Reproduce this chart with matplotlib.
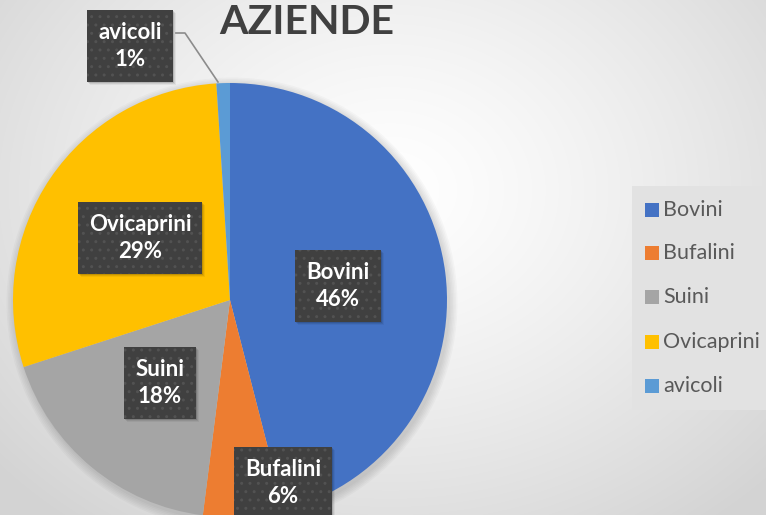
import numpy as np
import matplotlib
matplotlib.use('Agg')
from matplotlib import pyplot as plt

# data
categories = ['Bovini', 'Bufalini', 'Suini', 'Ovicaprini', 'avicoli']
values = [46, 6, 18, 29, 1]
colors = ['#4472C4', '#ED7D31', '#A5A5A5', '#FFC000', '#5B9BD5']
title = 'AZIENDE'

W, H = 766, 515
plt.rcParams['font.family'] = ['Lato', 'DejaVu Sans']
plt.rcParams['hatch.linewidth'] = 1.0

fig = plt.figure(figsize=(W / 100, H / 100), dpi=100)

# radial gradient background
bg = fig.add_axes([0, 0, 1, 1])
yy, xx = np.mgrid[0:H, 0:W]
d = np.sqrt(((xx - 390) / 520.0) ** 2 + ((yy - 190) / 420.0) ** 2)
shade = 1.0 - 0.17 * np.clip(d, 0, 1) ** 1.3
bg.imshow(np.dstack([shade] * 3), extent=[0, W, H, 0], aspect='auto')
bg.axis('off')

ax = fig.add_axes([0, 0, 1, 1])
ax.axis('off')

cx, cy, r = 230, 300, 217

# soft shadow behind pie
for k in range(6):
    ax.add_patch(plt.Circle((cx + 2, cy + 3), r + 1 + k * 1.5, color='black',
                            alpha=0.025, lw=0))

# y axis is inverted below, so this runs clockwise from the top on screen
wedges, _ = ax.pie(values, colors=colors, startangle=-90, counterclock=True,
                   center=(cx, cy), radius=r, frame=False,
                   wedgeprops=dict(linewidth=0))
ax.set_xlim(0, W)
ax.set_ylim(H, 0)
ax.set_aspect('auto')

# data labels
label_pos = [(338, 286), (283, 483), (160, 383), (140, 238), (130, 46)]
labels = []
for name, v, (lx, ly) in zip(categories, values, label_pos):
    t = ax.text(lx, ly, f'{name}\n{v}%', ha='center', va='center', fontsize=16,
                fontweight='bold', color='white', linespacing=1.4, zorder=5,
                bbox=dict(boxstyle='square,pad=0.5', fc='#404040', ec='#525252',
                          lw=0, hatch='..'))
    labels.append(t)

# box shadows (plain, no hatch)
fig.canvas.draw()
inv = ax.transData.inverted()
for t in labels:
    ext = t.get_bbox_patch().get_window_extent()
    (x0, y1), (x1, y0) = inv.transform([[ext.x0, ext.y0], [ext.x1, ext.y1]])
    for k, a in enumerate([0.12, 0.08, 0.05]):
        ax.add_patch(plt.Rectangle((x0 + 1 + k, y0 + 1 + k), x1 - x0, y1 - y0,
                                   fc='black', ec='none', alpha=a, zorder=4))

# leader line for avicoli
ax.plot([176, 185, 218], [33, 33, 82], color='#8c8c8c', lw=1.2)

# title
ax.text(307, 23, title, ha='center', va='center', fontsize=29.5,
        fontweight='bold', color='#404040')

# legend
ax.add_patch(plt.Rectangle((632, 186), 140, 224, fc='#e2e2e2', ec='none'))
leg_y = [210, 253, 297, 342, 386]
for name, c, ly in zip(categories, colors, leg_y):
    ax.add_patch(plt.Rectangle((645, ly - 7), 14, 14, fc=c, ec='none'))
    ax.text(663, ly, name, ha='left', va='center', fontsize=15.5,
            color='#595959')

fig.savefig('out.png', dpi=100)
